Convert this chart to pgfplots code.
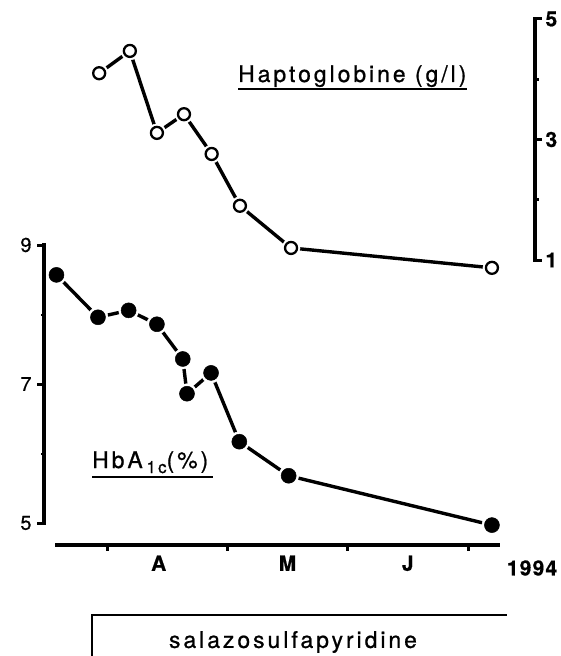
\documentclass[border=0pt]{standalone}
\usepackage{fontspec}
\setmainfont{TeX Gyre Heros}[FakeBold=0.6]
\newfontfamily\spaced[LetterSpace=13, FakeBold=0.8]{TeX Gyre Heros}
\newfontfamily\boldf[FakeBold=0.6]{TeX Gyre Heros Bold}
\usepackage{pgfplots}
\pgfplotsset{compat=1.18}
\pgfplotsset{
  hideax/.style={
    axis line style={draw=none},
    tick style={draw=none},
  }
}
\begin{document}
\begin{tikzpicture}[x=1bp,y=1bp]
\useasboundingbox (0,0) rectangle (561,-656);
% ---------- HbA1c ----------
\begin{axis}[
  at={(44bp,-523bp)}, anchor=south west,
  scale only axis, width=456bp, height=278bp,
  xmin=-0.5237, xmax=3.267, ymin=5, ymax=9,
  clip=false,
  axis x line=none,
  axis y line*=left,
  hideax,
  ytick={5,7,9}, minor ytick={6,8},
  tick align=outside,
  major tick length=7bp, minor tick length=3bp,
  yticklabel style={font=\fontsize{20}{20}\selectfont, xshift=-2bp},
  /pgf/number format/assume math mode=true,
]
\addplot[line width=3.4bp, black, mark=none] coordinates {
(-0.42,8.57) (-0.075,7.96) (0.18,8.06) (0.415,7.86) (0.63,7.36) (0.665,6.86) (0.865,7.16) (1.10,6.17) (1.51,5.68) (3.20,4.97)};
\addplot[only marks, mark=*, mark size=10bp, white, mark options={draw=white, fill=white, line width=0.5bp}] coordinates {
(-0.42,8.57) (-0.075,7.96) (0.18,8.06) (0.415,7.86) (0.63,7.36) (0.665,6.86) (0.865,7.16) (1.10,6.17) (1.51,5.68) (3.20,4.97)};
\addplot[black, mark=*, mark size=7.5bp, mark options={fill=black, draw=black, line width=0.5bp}, only marks] coordinates {
(-0.42,8.57) (-0.075,7.96) (0.18,8.06) (0.415,7.86) (0.63,7.36) (0.665,6.86) (0.865,7.16) (1.10,6.17) (1.51,5.68) (3.20,4.97)};
\end{axis}
% ---------- Haptoglobine ----------
\begin{axis}[
  at={(44bp,-260bp)}, anchor=south west,
  scale only axis, width=491bp, height=241bp,
  xmin=-0.5237, xmax=3.558, ymin=1, ymax=5,
  clip=false,
  axis x line=none,
  axis y line*=right,
  hideax,
  ytick={1,3,5}, minor ytick={2,4},
  tick align=outside,
  major tick length=7bp, minor tick length=3bp,
  yticklabel style={font=\boldf\fontsize{21}{21}\selectfont, xshift=0bp},
  /pgf/number format/assume math mode=true,
]
\addplot[line width=3.4bp, black, mark=none] coordinates {
(-0.065,4.10) (0.19,4.47) (0.415,3.11) (0.64,3.42) (0.87,2.76) (1.105,1.90) (1.53,1.20) (3.20,0.87)};
\addplot[only marks, mark=*, mark size=9bp, white, mark options={draw=white, fill=white, line width=0.5bp}] coordinates {
(-0.065,4.10) (0.19,4.47) (0.415,3.11) (0.64,3.42) (0.87,2.76) (1.105,1.90) (1.53,1.20) (3.20,0.87)};
\addplot[only marks, mark=o, mark size=6bp, black, mark options={fill=white, draw=black, line width=2.3bp}] coordinates {
(-0.065,4.10) (0.19,4.47) (0.415,3.11) (0.64,3.42) (0.87,2.76) (1.105,1.90) (1.53,1.20) (3.20,0.87)};
\end{axis}
% ---------- time axis ----------
\begin{axis}[
  at={(55bp,-545bp)}, anchor=south west,
  scale only axis, width=445bp, height=10bp,
  xmin=-0.432, xmax=3.267, ymin=0, ymax=1,
  clip=false,
  axis y line=none,
  axis x line*=bottom,
  hideax,
  xtick={0,1,2,3}, xticklabels={},
  tick align=outside,
  major tick length=6bp,
  extra x ticks={0.43,1.5,2.5},
  extra x tick labels={A,M,J},
  extra x tick style={major tick length=0pt, xticklabel style={font=\boldf\fontsize{21}{21}\selectfont, yshift=-7bp}},
]
\end{axis}
% ---------- axis lines and ticks (drawn at the axes' own positions) ----------
\draw[line width=3.4bp, line cap=rect] (44,-245) -- (44,-523);
\draw[line width=3bp] (44,-245) -- (37,-245) (44,-384) -- (37,-384) (44,-523) -- (37,-523);
\draw[line width=2.6bp] (44,-315) -- (40.5,-315) (44,-454) -- (40.5,-454);
\draw[line width=3.4bp, line cap=rect] (535,-19) -- (535,-260);
\draw[line width=3bp] (535,-19) -- (542,-19) (535,-139.5) -- (542,-139.5) (535,-260) -- (542,-260);
\draw[line width=2.6bp] (535,-79.25) -- (538.5,-79.25) (535,-199.75) -- (538.5,-199.75);
\draw[line width=3.2bp] (55,-545) -- (500,-545);
\draw[line width=3bp] (107,-545) -- (107,-551) (227.3,-545) -- (227.3,-551) (347.6,-545) -- (347.6,-551) (468,-545) -- (468,-551);
\node[font=\boldf\fontsize{21}{21}\selectfont\addfontfeature{LetterSpace=6}] at (532,-568) {1994};
% ---------- labels ----------
\node[anchor=base west, inner sep=0, font=\spaced\fontsize{23}{23}\selectfont] (h) at (238,-82) {Haptoglobine (g/l)};
\draw[line width=2.4bp] ([yshift=-7bp]h.base west) -- ([yshift=-7bp]h.base east);
\node[anchor=base west, inner sep=0, font=\spaced\fontsize{23}{23}\selectfont] (a) at (92,-468) {HbA\,\raisebox{-5bp}{\fontsize{17}{17}\selectfont 1c}(\%)};
\draw[line width=2.4bp] (92,-477) -- (213,-477);
% ---------- treatment box ----------
\draw[line width=1.8bp] (92,-662) -- (92,-615) -- (507,-615);
\node[font=\spaced\fontsize{23}{23}\selectfont] at (293,-642) {salazosulfapyridine};
\end{tikzpicture}
\end{document}
